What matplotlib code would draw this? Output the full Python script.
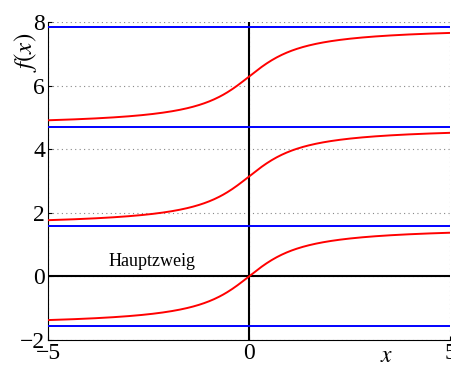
import matplotlib
matplotlib.use('agg')
import matplotlib.pyplot as plt
import numpy as np

plt.rcParams['font.family'] = ['Liberation Serif', 'DejaVu Serif']
plt.rcParams['mathtext.fontset'] = 'stix'

# branches of arctan: f(x) = arctan(x) + k*pi
x = np.linspace(-5, 5, 400)
branch_k = [0, 1, 2]
asymptotes = [-np.pi / 2, np.pi / 2, 3 * np.pi / 2, 5 * np.pi / 2]
x_ticks = [-5, 0, 5]
y_ticks = [-2, 0, 2, 4, 6, 8]
branch_label = 'Hauptzweig'

fig = plt.figure(figsize=(4.51, 3.65), dpi=100)
ax = fig.add_axes([0.1064, 0.0685, 0.8914, 0.8712])

for a in asymptotes:
    ax.axhline(a, color='#0000ff', linewidth=1.4, zorder=3)
ax.axhline(0, color='black', linewidth=1.5, zorder=2)
ax.axvline(0, color='black', linewidth=1.5, zorder=2)

for k in branch_k:
    ax.plot(x, np.arctan(x) + k * np.pi, color='#ff0000', linewidth=1.4, zorder=4)

ax.text(-2.4, 0.33, branch_label, fontsize=13, ha='center', va='baseline')

ax.set_xlim(-5, 5)
ax.set_ylim(-2, 8)
ax.set_xticks(x_ticks)
ax.set_yticks(y_ticks)
ax.tick_params(direction='in', labelsize=17, length=3, pad=2)
ax.grid(True, linestyle=(0, (1, 3)), color='#888888', linewidth=0.8)
ax.spines['top'].set_visible(False)
ax.spines['right'].set_visible(False)

ax.text(0.842, -0.053, '$x$', transform=ax.transAxes, fontsize=17, ha='center', va='center')
ax.text(-0.055, 0.905, '$f(x)$', transform=ax.transAxes, fontsize=18, ha='center', va='center',
        rotation=90)

plt.savefig('out.png', dpi=100)
